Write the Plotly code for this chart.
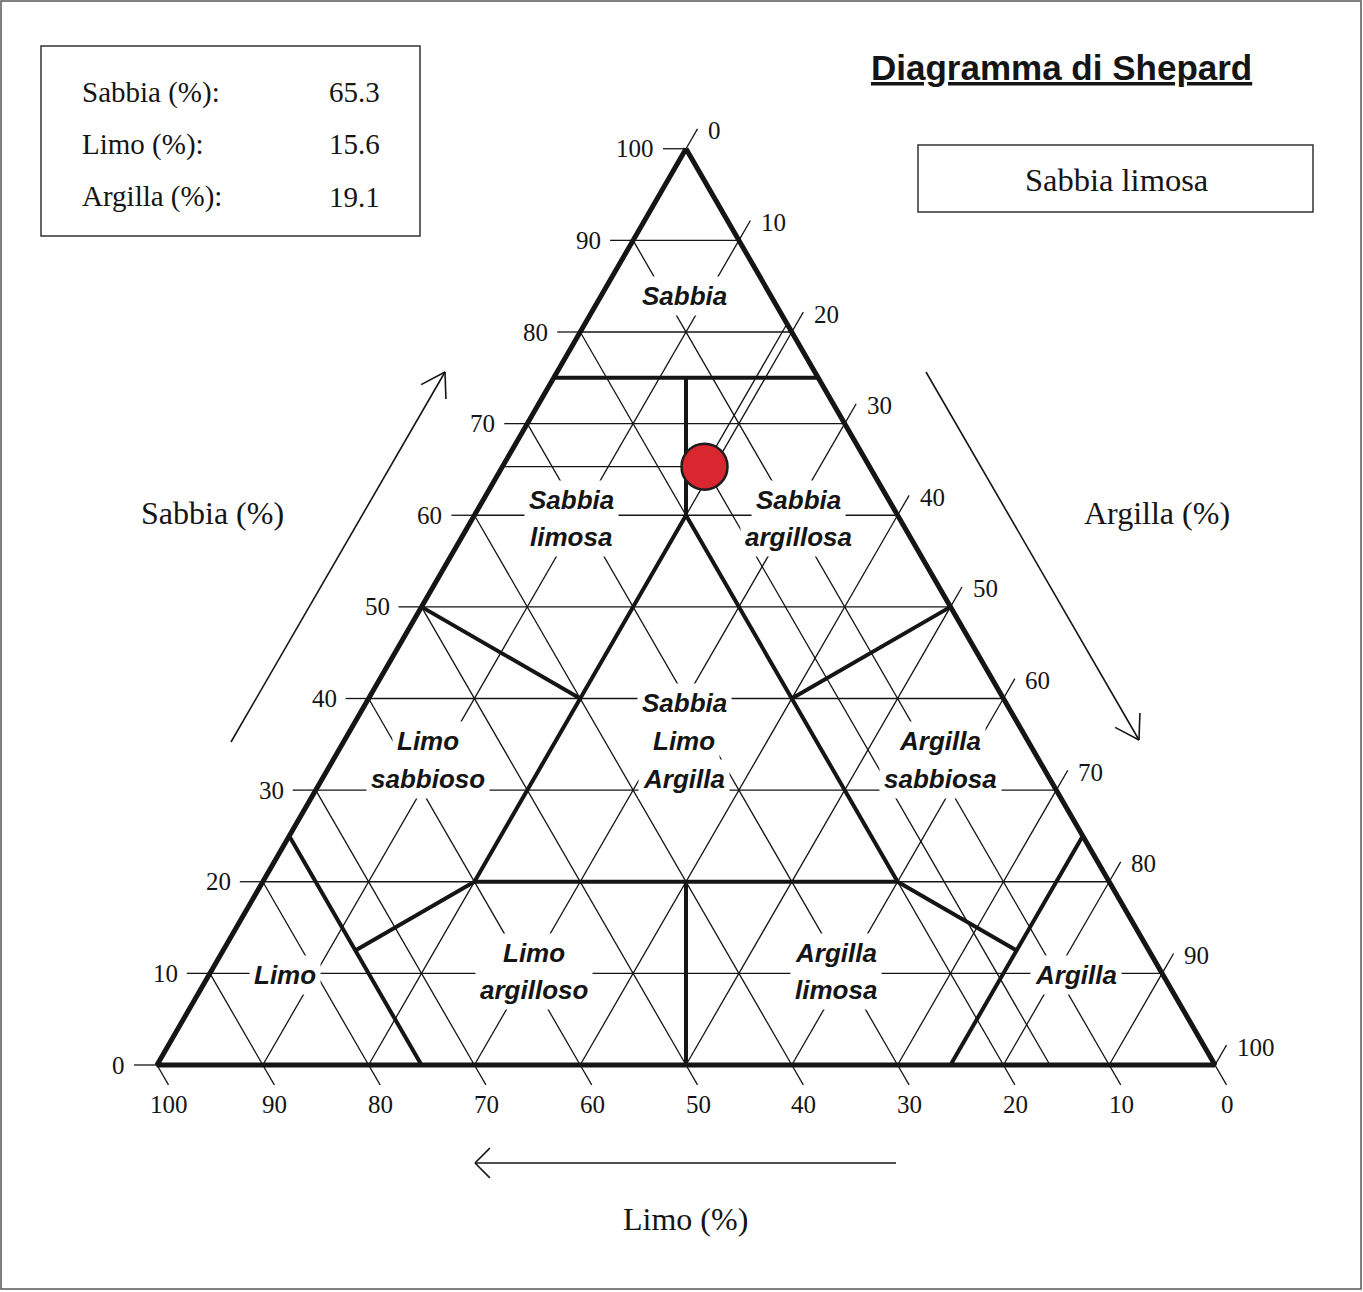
import math
import plotly.graph_objects as go

# ---- sample composition -------------------------------------------------
components = ["Sabbia (%):", "Limo (%):", "Argilla (%):"]
values = [65.3, 15.6, 19.1]          # sabbia, limo, argilla
sample_class = "Sabbia limosa"

# ---- axis ticks / grid ---------------------------------------------------
tick_values = list(range(0, 101, 10))
grid_values = list(range(10, 100, 10))

# ---- Shepard class boundaries: segments in (sabbia, limo, argilla) -------
boundary_segments = [
    [(75, 25, 0), (75, 0, 25)],
    [(75, 12.5, 12.5), (60, 20, 20)],
    [(60, 20, 20), (20, 60, 20)],
    [(60, 20, 20), (20, 20, 60)],
    [(20, 60, 20), (20, 20, 60)],
    [(20, 40, 40), (0, 50, 50)],
    [(50, 50, 0), (40, 40, 20)],
    [(50, 0, 50), (40, 20, 40)],
    [(25, 75, 0), (0, 75, 25)],
    [(25, 0, 75), (0, 25, 75)],
    [(20, 60, 20), (12.5, 75, 12.5)],
    [(20, 20, 60), (12.5, 12.5, 75)],
]

# ---- class names (one entry per text line) -------------------------------
region_lines = [
    "Sabbia",
    "Sabbia", "limosa",
    "Sabbia", "argillosa",
    "Sabbia", "Limo", "Argilla",
    "Limo", "sabbioso",
    "Argilla", "sabbiosa",
    "Limo",
    "Limo", "argilloso",
    "Argilla", "limosa",
    "Argilla",
]

# ---- page geometry ------------------------------------------------------
W, H_PAGE = 1363, 1292
PX = 1058.0                 # pixels per unit triangle side
X0, Y0 = 157.0, 1065.0      # pixel position of the Limo (100 %) corner
H = math.sqrt(3) / 2


def tern(s, l, a):
    t = s + l + a
    return a / t + 0.5 * s / t, H * s / t


def px(xp, yp):
    return (xp - X0) / PX, (Y0 - yp) / PX


def paper(xp, yp):
    return xp / W, 1 - yp / H_PAGE


region_pos = [
    (684, 296),
    (571, 500), (571, 537),
    (798, 500), (798, 537),
    (684, 703), (684, 741), (684, 779),
    (428, 741), (428, 779),
    (940, 741), (940, 779),
    (285, 975),
    (534, 953), (534, 990),
    (836, 953), (836, 990),
    (1076, 975),
]

INK = "#151515"
SERIF = "Liberation Serif"
SANS = "Liberation Sans"

fig = go.Figure()


def add_segments(segs, width, color=INK):
    xs, ys = [], []
    for p, q in segs:
        xs += [p[0], q[0], None]
        ys += [p[1], q[1], None]
    fig.add_trace(go.Scatter(x=xs, y=ys, mode="lines",
                             line=dict(color=color, width=width),
                             hoverinfo="skip"))


# grid lines
grid = []
for k in grid_values:
    grid.append((tern(k, 100 - k, 0), tern(k, 0, 100 - k)))      # sabbia
    grid.append((tern(100 - k, k, 0), tern(0, k, 100 - k)))      # limo
    grid.append((tern(100 - k, 0, k), tern(0, 100 - k, k)))      # argilla
add_segments(grid, 1.3)

# tick marks
TL = 23 / PX
ticks = []
for k in tick_values:
    ex, ey = tern(k, 100 - k, 0)
    ticks.append(((ex, ey), (ex - TL, ey)))
    ex, ey = tern(100 - k, 0, k)
    ticks.append(((ex, ey), (ex + 0.5 * TL, ey + H * TL)))
    ex, ey = tern(0, k, 100 - k)
    ticks.append(((ex, ey), (ex + 0.5 * TL, ey - H * TL)))
add_segments(ticks, 1.3)

# reading lines of the sample
s, l, a = values
pt = tern(s, l, a)
reading = [
    (tern(s, 100 - s, 0), pt),
    (pt, tern(100 - a, 0, a)),
    (pt, tern(0, l, 100 - l)),
]
add_segments(reading, 1.3)

# class boundaries
bsegs = [(tern(*p), tern(*q)) for p, q in boundary_segments]
add_segments(bsegs, 4)

# triangle outline
corners = [tern(100, 0, 0), tern(0, 0, 100), tern(0, 100, 0), tern(100, 0, 0)]
fig.add_trace(go.Scatter(x=[c[0] for c in corners], y=[c[1] for c in corners],
                         mode="lines", line=dict(color=INK, width=5),
                         hoverinfo="skip"))

# sample point
fig.add_trace(go.Scatter(x=[pt[0]], y=[pt[1]], mode="markers",
                         marker=dict(size=46, color="#d8272f",
                                     line=dict(color="#1d1d1d", width=2.5)),
                         hoverinfo="skip"))

annotations = []

# tick labels
for k in tick_values:
    ex, ey = tern(k, 100 - k, 0)
    annotations.append(dict(x=ex, y=ey, xref="x", yref="y", text=str(k),
                            showarrow=False, xanchor="right", yanchor="middle",
                            xshift=-30, font=dict(family=SERIF, size=25, color=INK)))
    ex, ey = tern(100 - k, 0, k)
    annotations.append(dict(x=ex, y=ey, xref="x", yref="y", text=str(k),
                            showarrow=False, xanchor="left", yanchor="middle",
                            xshift=20, yshift=18, font=dict(family=SERIF, size=25, color=INK)))
    ex, ey = tern(0, k, 100 - k)
    annotations.append(dict(x=ex, y=ey, xref="x", yref="y", text=str(k),
                            showarrow=False, xanchor="center", yanchor="middle",
                            xshift=12, yshift=-39, font=dict(family=SERIF, size=25, color=INK)))

# class names
for txt, (xp, yp) in zip(region_lines, region_pos):
    x, y = px(xp, yp)
    annotations.append(dict(x=x, y=y, xref="x", yref="y", text=txt, showarrow=False,
                            xanchor="center", yanchor="middle", bgcolor="white",
                            borderpad=4,
                            font=dict(family=SANS, size=26, color=INK,
                                      weight="bold", style="italic")))

# axis titles
for txt, (xp, yp) in [("Sabbia (%)", (212, 513)), ("Argilla (%)", (1157, 513)),
                      ("Limo (%)", (685, 1219))]:
    x, y = paper(xp, yp)
    annotations.append(dict(x=x, y=y, xref="paper", yref="paper", text=txt,
                            showarrow=False, xanchor="center", yanchor="middle",
                            font=dict(family=SERIF, size=32, color=INK)))

# composition box
for i, (name, v) in enumerate(zip(components, values)):
    yp = 92 + i * 52.5
    x, y = paper(80, yp)
    annotations.append(dict(x=x, y=y, xref="paper", yref="paper", text=name,
                            showarrow=False, xanchor="left", yanchor="middle",
                            font=dict(family=SERIF, size=29, color=INK)))
    x, y = paper(382, yp)
    annotations.append(dict(x=x, y=y, xref="paper", yref="paper", text=f"{v:.1f}",
                            showarrow=False, xanchor="right", yanchor="middle",
                            font=dict(family=SERIF, size=29, color=INK)))

# title and class box text
x, y = paper(1061, 67)
annotations.append(dict(x=x, y=y, xref="paper", yref="paper", text="Diagramma di Shepard",
                        showarrow=False, xanchor="center", yanchor="middle",
                        font=dict(family=SANS, size=35, color=INK, weight="bold",
                                  lineposition="under")))
x, y = paper(1116, 180)
annotations.append(dict(x=x, y=y, xref="paper", yref="paper", text=sample_class,
                        showarrow=False, xanchor="center", yanchor="middle",
                        font=dict(family=SERIF, size=32.5, color=INK)))

shapes = []


def rect(x0p, y0p, x1p, y1p, color="#333", width=1.5):
    a0 = paper(x0p, y0p)
    a1 = paper(x1p, y1p)
    shapes.append(dict(type="rect", xref="paper", yref="paper",
                       x0=a0[0], y0=a1[1], x1=a1[0], y1=a0[1],
                       line=dict(color=color, width=width)))


def pline(p, q, width=1.6):
    a0 = paper(*p)
    a1 = paper(*q)
    shapes.append(dict(type="line", xref="paper", yref="paper",
                       x0=a0[0], y0=a0[1], x1=a1[0], y1=a1[1],
                       line=dict(color=INK, width=width)))


def arrow(tail, tip, ang, length):
    pline(tail, tip)
    bx, by = tail[0] - tip[0], tail[1] - tip[1]
    n = math.hypot(bx, by)
    bx, by = bx / n, by / n
    for sgn in (1, -1):
        t = math.radians(sgn * ang)
        wx = bx * math.cos(t) - by * math.sin(t)
        wy = bx * math.sin(t) + by * math.cos(t)
        pline(tip, (tip[0] + wx * length, tip[1] + wy * length))


rect(41, 46, 420, 236)
rect(918, 145, 1313, 212)
rect(1, 1, 1361, 1289, color="#555", width=1.5)

arrow((231, 742), (445, 372), 32, 27)
arrow((926, 372), (1139, 740), 32, 27)
arrow((896, 1163), (475, 1163), 45, 21)

fig.update_layout(
    width=W, height=H_PAGE,
    margin=dict(l=0, r=0, t=0, b=0),
    paper_bgcolor="white", plot_bgcolor="white",
    showlegend=False,
    xaxis=dict(range=[-X0 / PX, (W - X0) / PX], visible=False, fixedrange=True),
    yaxis=dict(range=[-(H_PAGE - Y0) / PX, Y0 / PX], visible=False, fixedrange=True),
    annotations=annotations,
    shapes=shapes,
)

fig.write_html("out.html")
